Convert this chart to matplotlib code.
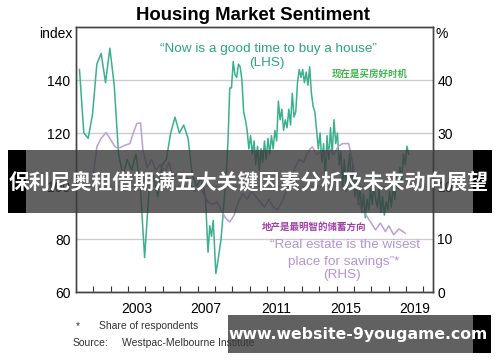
import matplotlib.pyplot as plt
from matplotlib.patches import Rectangle

plt.rcParams['font.family'] = ['Liberation Sans', 'Noto Sans CJK SC', 'DejaVu Sans']

# "Now is a good time to buy a house" index (LHS)
green_years = [2000.20, 2000.45, 2000.70, 2000.95, 2001.20, 2001.45, 2001.70, 2001.95,
               2002.20, 2002.45, 2002.70, 2002.95, 2003.20, 2003.45, 2003.70, 2003.95,
               2004.20, 2004.45, 2004.70, 2004.95, 2005.20, 2005.45, 2005.70, 2005.95,
               2006.20, 2006.45, 2006.70, 2006.95, 2007.20, 2007.45, 2007.60, 2007.70,
               2007.80, 2007.90, 2008.05, 2008.20, 2008.35, 2008.50, 2008.65, 2008.75,
               2008.85, 2008.95, 2009.05, 2009.15, 2009.25, 2009.35, 2009.45, 2009.55,
               2009.65, 2009.75, 2009.85, 2009.95, 2010.05, 2010.15, 2010.25, 2010.35,
               2010.45, 2010.55, 2010.65, 2010.75, 2010.85, 2010.95, 2011.05, 2011.15,
               2011.25, 2011.35, 2011.45, 2011.55, 2011.65, 2011.75, 2011.85, 2011.95,
               2012.05, 2012.15, 2012.25, 2012.35, 2012.45, 2012.55, 2012.65, 2012.75,
               2012.85, 2012.95, 2013.05, 2013.15, 2013.25, 2013.35, 2013.45, 2013.55,
               2013.65, 2013.75, 2013.85, 2013.95, 2014.05, 2014.15, 2014.25, 2014.35,
               2014.45, 2014.55, 2014.65, 2014.75, 2014.85, 2014.95, 2015.05, 2015.15,
               2015.25, 2015.35, 2015.45, 2015.55, 2015.65, 2015.75, 2015.85, 2015.95,
               2016.05, 2016.15, 2016.25, 2016.35, 2016.45, 2016.55, 2016.65, 2016.75,
               2016.85, 2016.95, 2017.05, 2017.15, 2017.25, 2017.35, 2017.45, 2017.55,
               2017.65, 2017.75, 2017.85, 2017.95, 2018.05, 2018.15, 2018.25, 2018.35,
               2018.45, 2018.55, 2018.65, 2018.75, 2018.85, 2018.95, 2019.05, 2019.15]
green_vals = [144, 120, 118, 127, 146, 150, 139, 152,
              138, 112, 104, 110, 106, 112, 100, 73,
              98, 104, 96, 108, 110, 120, 126, 120,
              123, 118, 104, 100, 103, 96, 75, 85,
              81, 87, 67, 73, 80, 92, 105, 117,
              137, 137, 147, 142, 141, 146, 145, 140,
              128, 125, 121, 114, 119, 112, 117, 108,
              115, 106, 114, 109, 117, 110, 118, 112,
              119, 114, 121, 117, 132, 125, 129, 121,
              125, 122, 129, 123, 135, 126, 128, 139,
              144, 141, 144, 139, 143, 138, 145, 135,
              130, 128, 121, 114, 120, 109, 116, 104,
              119, 110, 122, 112, 125, 116, 120, 108,
              113, 100, 110, 98, 106, 112, 100, 108,
              96, 104, 93, 100, 90, 97, 88, 95,
              91, 99, 93, 101, 95, 92, 99, 90,
              96, 89, 94, 91, 98, 92, 100, 95,
              103, 99, 107, 102, 112, 108, 115, 112]

# "Real estate is the wisest place for savings" share, % (RHS)
purple_years = [2001.00, 2001.20, 2001.45, 2001.73, 2002.00, 2002.25, 2002.45, 2002.83,
                2003.10, 2003.30, 2003.50, 2003.72, 2003.85, 2004.10, 2004.35, 2004.60,
                2004.85, 2005.10, 2005.35, 2005.60, 2005.85, 2006.10, 2006.35, 2006.60,
                2006.85, 2007.10, 2007.35, 2007.60, 2007.85, 2008.10, 2008.35, 2008.60,
                2008.85, 2009.10, 2009.35, 2009.60, 2009.85, 2010.10, 2010.35, 2010.60,
                2010.85, 2011.10, 2011.35, 2011.60, 2011.85, 2012.10, 2012.35, 2012.60,
                2012.85, 2013.10, 2013.35, 2013.60, 2013.85, 2014.10, 2014.35, 2014.60,
                2014.85, 2015.10, 2015.35, 2015.70, 2015.95, 2016.20, 2016.45, 2016.76,
                2017.00, 2017.24, 2017.52, 2017.81, 2018.00, 2018.29, 2018.58, 2018.96]
purple_vals = [22.0, 27.4, 29.0, 30.1, 28.7, 27.4, 27.1, 27.7,
               28.0, 30.0, 31.8, 31.9, 26.8, 23.5, 25.0, 23.0,
               24.0, 22.5, 24.5, 21.5, 22.5, 21.0, 22.0, 20.0,
               19.0, 20.0, 18.5, 17.0, 16.5, 17.0, 15.5, 14.0,
               13.2, 14.5, 17.0, 18.5, 17.5, 19.0, 18.0, 17.0,
               16.0, 17.5, 16.0, 15.5, 17.0, 19.0, 21.0, 23.5,
               25.0, 24.5, 26.5, 27.4, 26.0, 26.5, 25.5, 27.0,
               26.0, 27.5, 28.0, 28.0, 24.0, 17.5, 15.5, 14.2,
               13.0, 11.7, 13.0, 11.4, 12.5, 10.8, 11.9, 11.1]

left_ticks = [60, 80, 100, 120, 140]
right_ticks = [0, 10, 20, 30, 40]
year_labels = [2003, 2007, 2011, 2015, 2019]

green = '#3bb08f'
purple = '#bb9fdb'
W, H = 500, 362

fig = plt.figure(figsize=(5, 3.62), dpi=100)
ax = fig.add_axes([76 / W, 70 / H, 357 / W, 265 / H])
ax2 = ax.twinx()

ax.set_xlim(2000, 2020.55)
ax.set_ylim(60, 160)
ax2.set_ylim(0, 50)

ax.set_yticks(left_ticks)
ax2.set_yticks(right_ticks)
ax.grid(axis='y', color='#cccccc', lw=1)
ax.set_axisbelow(True)

ax.plot(green_years, green_vals, color=green, lw=1.1, zorder=3)
ax2.plot(purple_years, purple_vals, color=purple, lw=1.1, zorder=2)

# year boundary ticks inside, labels centred in the year
ax.set_xticks(range(2001, 2021))
ax.set_xticklabels([])
ax.set_xticks([y + 0.5 for y in year_labels], minor=True)
ax.set_xticklabels([str(y) for y in year_labels], minor=True)
ax.tick_params(axis='x', which='major', direction='in', length=4, color='#333333')
ax.tick_params(axis='x', which='minor', length=0, pad=7, labelsize=10)
ax.tick_params(axis='y', length=0, pad=4, labelsize=10)
ax2.tick_params(axis='y', length=0, pad=3, labelsize=10)

for a in (ax, ax2):
    for s in a.spines.values():
        s.set_color('#444444')
        s.set_linewidth(1)

def px(x, y):
    return x / W, 1 - y / H

fig.text(*px(253, 15), 'Housing Market Sentiment', ha='center', va='center',
         fontsize=13.4, fontweight='bold')
fig.text(*px(72, 34), 'index', ha='right', va='center', fontsize=10)
fig.text(*px(436, 34), '%', ha='left', va='center', fontsize=10)

fig.text(*px(268, 49), '\u201cNow is a good time to buy a house\u201d', ha='center', va='center',
         fontsize=9.7, color='#2ea383')
fig.text(*px(267, 63), '(LHS)', ha='center', va='center', fontsize=9.7, color='#2ea383')
fig.text(*px(370, 74), '现在是买房好时机', ha='center', va='center', fontsize=6.8,
         fontweight='bold', color='#3db54a', family=['Noto Sans CJK SC'])

fig.text(*px(314, 227), '地产是最明智的储蓄方向', ha='center', va='center', fontsize=6.8,
         fontweight='bold', color='#a23ea8', family=['Noto Sans CJK SC'])
fig.text(*px(345, 245), '\u201cReal estate is the wisest', ha='center', va='center',
         fontsize=9.7, color='#b493d6')
fig.text(*px(344, 262), 'place for savings\u201d*', ha='center', va='center',
         fontsize=9.7, color='#b493d6')
fig.text(*px(342, 275), '(RHS)', ha='center', va='center', fontsize=9.7, color='#b493d6')

fig.text(*px(76, 326), '*', ha='left', va='center', fontsize=7.5, color='#333333')
fig.text(*px(99, 326), 'Share of respondents', ha='left', va='center', fontsize=7.5,
         color='#333333')
fig.text(*px(73, 343), 'Source:', ha='left', va='center', fontsize=7.5, color='#333333')
fig.text(*px(122, 343), 'Westpac-Melbourne Institute', ha='left', va='center',
         fontsize=7.5, color='#333333')

# overlay banner
def box(x0, y0, x1, y1, color, alpha):
    fig.patches.append(Rectangle((x0 / W, 1 - y1 / H), (x1 - x0) / W, (y1 - y0) / H,
                                 transform=fig.transFigure, facecolor=color,
                                 edgecolor='none', alpha=alpha, zorder=5))

box(26, 150, 473, 213, '#3a3a3a', 0.8)
box(8, 150, 26, 213, '#000000', 1)
box(473, 150, 492, 213, '#000000', 1)
fig.text(*px(249, 182), '保利尼奥租借期满五大关键因素分析及未来动向展望', ha='center', va='center',
         fontsize=15, fontweight='bold', color='white', zorder=6,
         family=['Noto Sans CJK SC'])

box(228, 315, 473, 353, '#3a3a3a', 0.8)
box(473, 315, 491, 353, '#000000', 1)
fig.text(*px(358, 335), 'www.website-9yougame.com', ha='center', va='center',
         fontsize=11.3, fontweight='bold', color='white', zorder=6,
         family=['DejaVu Sans'])

fig.savefig('out.png', dpi=100)
